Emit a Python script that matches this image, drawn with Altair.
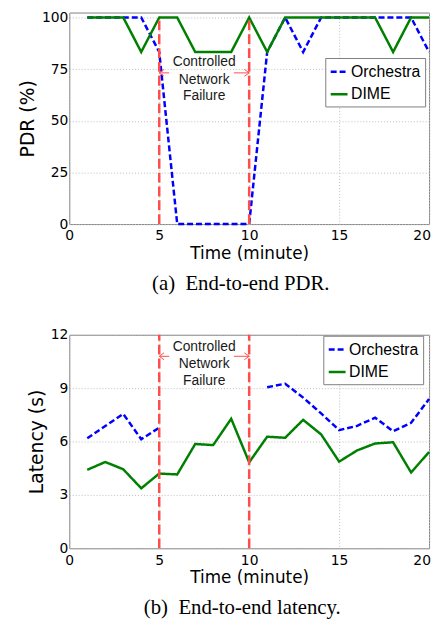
import altair as alt
import pandas as pd

# ---------------- data ----------------
minutes = list(range(1, 21))
series_names = ["Orchestra", "DIME"]
series_colors = ["#0000ff", "#008000"]

pdr_orchestra = [100, 100, 100, 100, 83.3, 0, 0, 0, 0, 0,
                 83.3, 100, 83.3, 100, 100, 100, 100, 100, 100, 83.3]
pdr_dime = [100, 100, 100, 83.3, 100, 100, 83.3, 83.3, 83.3, 100,
            83.3, 100, 100, 100, 100, 100, 100, 83.3, 100, 100]

lat_orchestra = [6.18, 6.87, 7.55, 6.13, 6.78, None, None, None, None, None,
                 9.05, 9.25, 8.47, 7.58, 6.64, 6.88, 7.34, 6.58, 7.05, 8.39]
lat_dime = [4.41, 4.85, 4.44, 3.37, 4.20, 4.15, 5.86, 5.80, 7.28, 4.83,
            6.27, 6.21, 7.22, 6.40, 4.87, 5.50, 5.89, 5.96, 4.26, 5.41]

failure_window = [5, 10]
arrow_inner = [5.55, 9.15]
annot_lines = ["Controlled", "Network", "Failure"]
pdr_annot_y = [78.3, 69.9, 61.9]
pdr_arrow_y = 73.2
lat_annot_y = [11.31, 10.33, 9.41]
lat_arrow_y = 10.79

time_ticks = [0, 5, 10, 15, 20]
pdr_ticks = [0, 25, 50, 75, 100]
lat_ticks = [0, 3, 6, 9, 12]
pdr_domain = [0, 102.4]
lat_domain = [0, 12]

captions = ["(a)\u00a0 End-to-end PDR.", "(b)\u00a0 End-to-end latency."]

RED = "#ff4d4d"
PATH_LEFT = "M1.4,-1L0,0L1.4,1"
PATH_RIGHT = "M-1.4,-1L0,0L-1.4,1"


def long_frame(values_by_series):
    rows = []
    for name, vals in zip(series_names, values_by_series):
        seg = 0
        for m, v in zip(minutes, vals):
            if v is None:
                seg += 1
                continue
            rows.append({"minute": m, "value": v, "series": name,
                         "seg": f"{name}-{seg}"})
    return pd.DataFrame(rows)


def panel(values_by_series, ydomain, yticks, ytitle, caption, annot_y,
          arrow_y, legend_xy, cap_dx, height):
    df = long_frame(values_by_series)
    xenc = alt.X("minute:Q",
                 scale=alt.Scale(domain=[0, 20], nice=False, zero=False),
                 axis=alt.Axis(values=time_ticks, title="Time (minute)",
                               labelFlush=False, labelPadding=5,
                               labelOffset={"condition": {
                                   "test": "datum.value >= 20",
                                   "value": -7.5}, "value": 0},
                               titlePadding=2.5, titleFontSize=17,
                               format="d"))
    yenc = alt.Y("value:Q",
                 scale=alt.Scale(domain=ydomain, nice=False, zero=True),
                 axis=alt.Axis(values=yticks, title=ytitle,
                               labelPadding=1.5, titlePadding=3.5,
                               titleFontSize=19, format="d"))
    legend = alt.Legend(title=None, orient="none",
                        legendX=legend_xy[0], legendY=legend_xy[1],
                        symbolType="stroke", symbolSize=289,
                        symbolStrokeWidth=2.5, labelFont="Liberation Sans",
                        labelFontSize=16, labelColor="black", padding=4,
                        strokeColor="#808080", fillColor="white",
                        rowPadding=4.6, labelOffset=2)
    color = alt.Color("series:N",
                      scale=alt.Scale(domain=series_names, range=series_colors),
                      legend=legend)
    dash = alt.StrokeDash("series:N",
                          scale=alt.Scale(domain=series_names,
                                          range=[[6, 3], [1, 0]]),
                          legend=legend)
    base = alt.Chart(df)
    line_layers = [
        base.transform_filter(alt.datum.series == name)
        .mark_line(strokeWidth=2.5)
        .encode(x=xenc, y=yenc, color=color, strokeDash=dash,
                detail="seg:N")
        for name in series_names
    ]

    rules_df = pd.DataFrame({"minute": failure_window,
                             "value": [ydomain[0]] * 2,
                             "value2": [yticks[-1]] * 2})
    rules = alt.Chart(rules_df).mark_rule(
        color=RED, strokeWidth=2.5, strokeDash=[10, 4]
    ).encode(x="minute:Q", y="value:Q", y2="value2:Q")

    shaft_df = pd.DataFrame({"minute": failure_window,
                             "minute2": arrow_inner,
                             "value": [arrow_y] * 2})
    shafts = alt.Chart(shaft_df).mark_rule(color=RED, strokeWidth=1).encode(
        x="minute:Q", x2="minute2:Q", y="value:Q")
    head_l = alt.Chart(pd.DataFrame({"minute": [failure_window[0]],
                                     "value": [arrow_y]})).mark_point(
        shape=PATH_LEFT, size=49, filled=False, color=RED, strokeWidth=1,
        opacity=1).encode(x="minute:Q", y="value:Q")
    head_r = alt.Chart(pd.DataFrame({"minute": [failure_window[1]],
                                     "value": [arrow_y]})).mark_point(
        shape=PATH_RIGHT, size=49, filled=False, color=RED, strokeWidth=1,
        opacity=1).encode(x="minute:Q", y="value:Q")

    text_df = pd.DataFrame({"minute": [sum(failure_window) / 2] * 3,
                            "value": annot_y, "label": annot_lines})
    texts = alt.Chart(text_df).mark_text(
        font="Liberation Sans", fontSize=14, color="#1a1a1a",
        align="center", baseline="middle"
    ).encode(x="minute:Q", y="value:Q", text="label:N")

    return alt.layer(*line_layers, rules, shafts, head_l, head_r, texts
                     ).properties(
        width=364,
        height=height,
        title=alt.TitleParams(caption, orient="bottom", anchor="middle",
                              frame="group", font="Liberation Serif",
                              fontSize=21, fontWeight="normal", offset=12.5,
                              dx=cap_dx, color="black"),
    )


top = panel([pdr_orchestra, pdr_dime], pdr_domain, pdr_ticks, "PDR (%)",
            captions[0], pdr_annot_y, pdr_arrow_y, (259, 46), -8.5, 214)

bottom = panel([lat_orchestra, lat_dime], lat_domain, lat_ticks,
               "Latency (s)", captions[1], lat_annot_y, lat_arrow_y,
               (257, 1), -7, 216)

chart = alt.vconcat(top, bottom, spacing=32).resolve_scale(
    color="independent", strokeDash="independent"
).resolve_legend(color="independent", strokeDash="independent").properties(
    padding={"left": 10, "top": -2, "right": 0, "bottom": 0}
).configure_view(
    stroke="#808080", strokeWidth=1
).configure_axis(
    grid=True, gridDash=[1, 2], gridColor="#bdbdbd", gridWidth=1,
    domain=False, ticks=False, tickSize=0,
    labelFont="DejaVu Sans", labelFontSize=14, labelColor="black",
    titleFont="DejaVu Sans", titleFontWeight="normal", titleColor="black"
)

chart.save("out.html", embed_options={"renderer": "svg", "actions": False})
